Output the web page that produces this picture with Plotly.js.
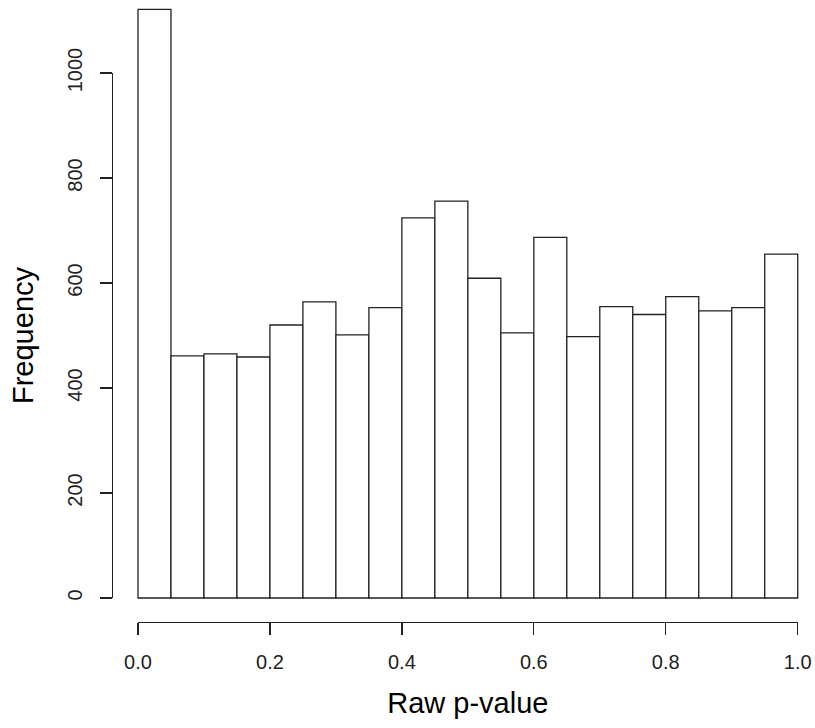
<!DOCTYPE html>
<html>
<head>
<meta charset="utf-8">
<script src="https://cdn.plot.ly/plotly-3.0.1.min.js"></script>
<style>html,body{margin:0;padding:0;background:#fff;}#chart{width:815px;height:728px;}</style>
</head>
<body>
<div id="chart"></div>
<script>
// Histogram of raw p-values: left edges of the 0.05-wide bins and their counts
const binLefts = [0.00, 0.05, 0.10, 0.15, 0.20, 0.25, 0.30, 0.35, 0.40, 0.45,
                  0.50, 0.55, 0.60, 0.65, 0.70, 0.75, 0.80, 0.85, 0.90, 0.95];
const counts   = [1121, 461, 465, 459, 520, 564, 501, 553, 724, 756,
                  609, 505, 687, 498, 555, 540, 574, 547, 553, 655];
const binWidth = 0.05;
const xTickVals = [0, 0.2, 0.4, 0.6, 0.8, 1.0];
const xTickText = ['0.0', '0.2', '0.4', '0.6', '0.8', '1.0'];
const yTickVals = [0, 200, 400, 600, 800, 1000];
const yTickText = ['0', '200', '400', '600', '800', '1000'];

const FONT = 'Liberation Sans, Arial, Helvetica, sans-serif';
const INK = '#222';

const bars = {
  type: 'bar',
  x: binLefts,
  y: counts,
  width: binWidth,
  offset: 0,
  marker: {color: '#ffffff', line: {color: INK, width: 1.3}},
  xaxis: 'x', yaxis: 'y',
  hoverinfo: 'x+y',
  showlegend: false
};
// invisible helper trace so the R-style axes subplot is drawn
const axesHelper = {
  type: 'scatter', mode: 'markers',
  x: [0], y: [0],
  marker: {opacity: 0},
  xaxis: 'x2', yaxis: 'y2',
  hoverinfo: 'skip', showlegend: false
};

const layout = {
  width: 815, height: 728,
  margin: {l: 112, r: 0, t: 0, b: 106},
  paper_bgcolor: '#ffffff', plot_bgcolor: 'rgba(0,0,0,0)',
  font: {family: FONT, color: INK},
  showlegend: false,
  bargap: 0,
  xaxis: {domain: [0, 1], range: [-0.0394, 1.0262], visible: false, fixedrange: true},
  yaxis: {domain: [0, 1], range: [-45.7, 1139], visible: false, fixedrange: true},
  xaxis2: {
    domain: [0.037, 0.9754], range: [0, 1],
    anchor: 'free', position: 0,
    showline: true, linecolor: INK, linewidth: 1.3,
    showgrid: false, zeroline: false,
    ticks: 'outside', ticklen: 12, tickwidth: 1.3, tickcolor: INK,
    tickvals: xTickVals, ticktext: xTickText,
    tickfont: {family: FONT, size: 20, color: INK},
    ticklabelstandoff: 10,
    title: {text: 'Raw p-value', font: {family: FONT, size: 29, color: '#000'}, standoff: 20},
    fixedrange: true
  },
  yaxis2: {
    domain: [0.0386, 0.8826], range: [0, 1000],
    anchor: 'free', position: 0,
    showline: true, linecolor: INK, linewidth: 1.3,
    showgrid: false, zeroline: false,
    ticks: 'outside', ticklen: 12, tickwidth: 1.3, tickcolor: INK,
    tickvals: yTickVals, ticktext: yTickText,
    tickangle: -90,
    tickfont: {family: FONT, size: 20, color: INK},
    ticklabelstandoff: 10,
    title: {text: 'Frequency', font: {family: FONT, size: 29, color: '#000'}, standoff: 20},
    fixedrange: true
  }
};

Plotly.newPlot('chart', [bars, axesHelper], layout, {displayModeBar: false, staticPlot: true});
</script>
</body>
</html>
